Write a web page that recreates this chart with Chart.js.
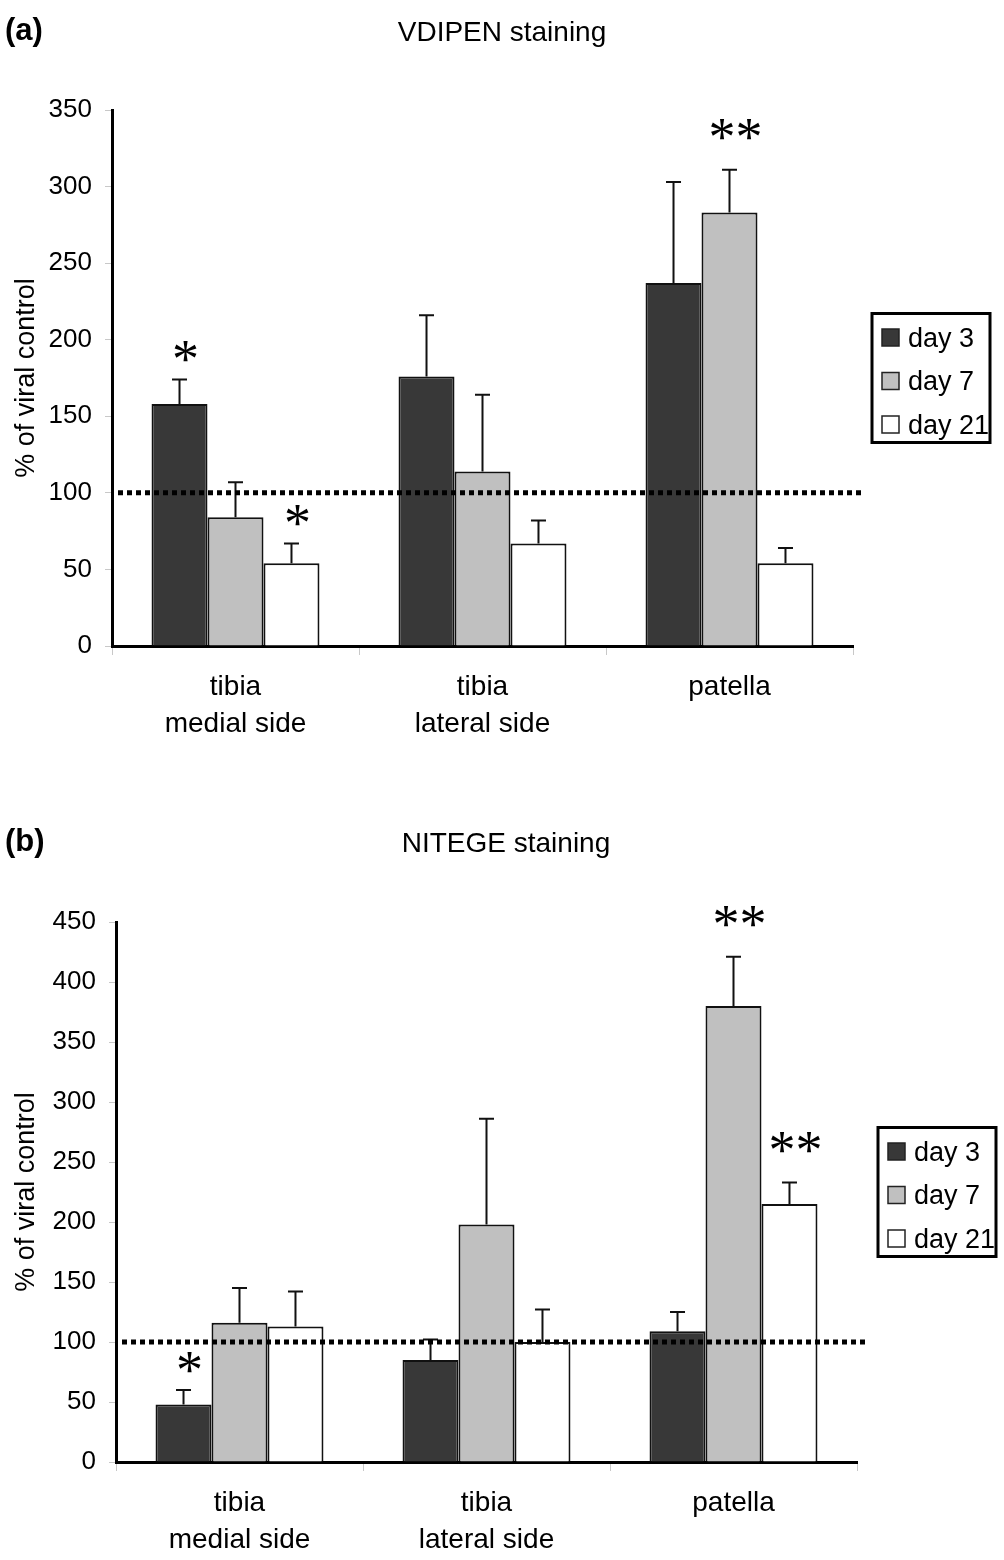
<!DOCTYPE html>
<html>
<head>
<meta charset="utf-8">
<script src="https://cdn.jsdelivr.net/npm/chart.js@4.4.0/dist/chart.umd.min.js"></script>
<style>
  html, body { margin: 0; padding: 0; background: #fff; }
  .panel { position: relative; width: 1004px; }
  #wrapA { height: 790px; }
  #wrapB { height: 770px; }
</style>
</head>
<body>
<div class="panel" id="wrapA"><canvas id="chartA"></canvas></div>
<div class="panel" id="wrapB"><canvas id="chartB"></canvas></div>
<script>
const categories = [["tibia", "medial side"], ["tibia", "lateral side"], "patella"];
const seriesNames = ["day 3", "day 7", "day 21"];
const seriesColors = ["#383838", "#c0c0c0", "#ffffff"];
const controlLevel = 100;

// (a) VDIPEN staining, % of viral control
const vdipenDay3 = [158, 176, 237];
const vdipenDay7 = [84, 114, 283];
const vdipenDay21 = [54, 67, 54];
const vdipenErrDay3 = [16, 40, 66];
const vdipenErrDay7 = [23, 50, 28];
const vdipenErrDay21 = [13, 15, 10];
const vdipenStars = [["*", "", ""], ["", "", "**"], ["*", "", ""]];
const vdipenTicks = [0, 50, 100, 150, 200, 250, 300, 350];

// (b) NITEGE staining
const nitegeDay3 = [48, 85, 109];
const nitegeDay7 = [116, 198, 380];
const nitegeDay21 = [113, 100, 215];
const nitegeErrDay3 = [12, 17, 16];
const nitegeErrDay7 = [29, 88, 41];
const nitegeErrDay21 = [29, 27, 18];
const nitegeStars = [["*", "", ""], ["", "", "**"], ["", "", "**"]];
const nitegeTicks = [0, 50, 100, 150, 200, 250, 300, 350, 400, 450];

const FONT = '"Liberation Sans", Arial, Helvetica, sans-serif';

const errorBars = {
  id: "errorBars",
  afterDatasetsDraw(chart, args, opts) {
    const { ctx } = chart;
    const y = chart.scales.y;
    ctx.save();
    ctx.strokeStyle = "#111";
    ctx.lineWidth = 2;
    chart.data.datasets.forEach((ds, i) => {
      const meta = chart.getDatasetMeta(i);
      meta.data.forEach((bar, j) => {
        const top = y.getPixelForValue(ds.data[j] + opts.errors[i][j]);
        ctx.beginPath();
        ctx.moveTo(bar.x, bar.y);
        ctx.lineTo(bar.x, top);
        ctx.moveTo(bar.x - 7.5, top);
        ctx.lineTo(bar.x + 7.5, top);
        ctx.stroke();
        const mark = opts.stars[i][j];
        if (mark) {
          ctx.fillStyle = "#000";
          ctx.font = '54px "Liberation Serif", "Times New Roman", serif';
          ctx.textAlign = "center";
          ctx.textBaseline = "alphabetic";
          const m = ctx.measureText(mark);
          // centre the glyph itself, not the em box
          const cy = top - (mark.length > 1 ? 40 : 28);
          const base = cy + (m.actualBoundingBoxAscent - m.actualBoundingBoxDescent) / 2;
          ctx.fillText(mark, bar.x + 6, base);
        }
      });
    });
    ctx.restore();
  },
};

const refLine = {
  id: "refLine",
  afterDatasetsDraw(chart) {
    const { ctx, chartArea } = chart;
    const py = chart.scales.y.getPixelForValue(controlLevel);
    ctx.save();
    ctx.strokeStyle = "#000";
    ctx.lineWidth = 5;
    ctx.setLineDash([5, 4]);
    ctx.beginPath();
    ctx.moveTo(chartArea.left + 6, py);
    ctx.lineTo(chartArea.right + 9, py);
    ctx.stroke();
    ctx.restore();
  },
};

const panelText = {
  id: "panelText",
  afterDraw(chart, args, opts) {
    const { ctx } = chart;
    ctx.save();
    ctx.fillStyle = "#000";
    ctx.textBaseline = "middle";
    ctx.font = "bold 31px " + FONT;
    ctx.textAlign = "left";
    ctx.fillText(opts.letter, 5, opts.y);
    ctx.font = "28px " + FONT;
    ctx.textAlign = "center";
    ctx.fillText(opts.title, opts.titleX, opts.y + 2);
    ctx.restore();
  },
};

const boxLegend = {
  id: "boxLegend",
  afterDraw(chart, args, opts) {
    const { ctx, chartArea } = chart;
    const w = 118, h = 129;
    const left = chartArea.right + opts.gap;
    const top = (chartArea.top + chartArea.bottom) / 2 - h / 2;
    ctx.save();
    ctx.lineWidth = 3;
    ctx.strokeStyle = "#000";
    ctx.strokeRect(left, top, w, h);
    ctx.font = "27px " + FONT;
    ctx.textBaseline = "middle";
    ctx.textAlign = "left";
    chart.data.datasets.forEach((ds, i) => {
      const cy = top + 24 + i * 43.5;
      ctx.fillStyle = ds.backgroundColor;
      ctx.fillRect(left + 10, cy - 8.5, 17, 17);
      ctx.lineWidth = 1.5;
      ctx.strokeStyle = "#222";
      ctx.strokeRect(left + 10, cy - 8.5, 17, 17);
      ctx.fillStyle = "#000";
      ctx.fillText(ds.label, left + 36, cy + 2);
    });
    ctx.restore();
  },
};

function makePanel(canvasId, p) {
  const values = [p.day3, p.day7, p.day21];
  return new Chart(document.getElementById(canvasId), {
    type: "bar",
    data: {
      labels: categories,
      datasets: seriesNames.map((name, i) => ({
        label: name,
        data: values[i],
        backgroundColor: seriesColors[i],
        borderColor: "#111",
        borderWidth: 2,
        categoryPercentage: 0.68,
        barPercentage: 1.0,
      })),
    },
    options: {
      responsive: true,
      maintainAspectRatio: false,
      animation: false,
      layout: { padding: { top: p.top, right: p.right, left: 0, bottom: 0 } },
      scales: {
        x: {
          offset: true,
          grid: { drawOnChartArea: false, offset: true, color: "#c8c8c8", tickLength: 9 },
          border: { color: "#000", width: 3 },
          ticks: {
            color: "#000",
            font: { family: FONT, size: 28, lineHeight: 1.35 },
            padding: 13,
            maxRotation: 0,
            autoSkip: false,
          },
          afterFit(scale) { scale.height = p.xHeight; },
        },
        y: {
          min: 0,
          max: p.ticks[p.ticks.length - 1],
          afterBuildTicks(scale) { scale.ticks = p.ticks.map((v) => ({ value: v })); },
          grid: { drawOnChartArea: false, color: "#c8c8c8", tickLength: 7 },
          border: { color: "#000", width: 3 },
          ticks: { color: "#000", font: { family: FONT, size: 26 }, padding: 13 },
          title: {
            display: true,
            text: "% of viral control",
            color: "#000",
            font: { family: FONT, size: 27 },
            padding: { top: 10, bottom: 0 },
          },
          afterFit(scale) { scale.width = p.yWidth; },
        },
      },
      plugins: {
        legend: { display: false },
        tooltip: { enabled: false },
        errorBars: { errors: p.errors, stars: p.stars },
        panelText: { letter: p.letter, title: p.title, titleX: p.titleX, y: p.titleY },
        boxLegend: { gap: p.legendGap },
      },
    },
    plugins: [errorBars, refLine, panelText, boxLegend],
  });
}

makePanel("chartA", {
  day3: vdipenDay3, day7: vdipenDay7, day21: vdipenDay21,
  errors: [vdipenErrDay3, vdipenErrDay7, vdipenErrDay21],
  stars: vdipenStars, ticks: vdipenTicks,
  letter: "(a)", title: "VDIPEN staining", titleX: 502, titleY: 31,
  top: 110, right: 151, xHeight: 144, yWidth: 112, legendGap: 19,
});

makePanel("chartB", {
  day3: nitegeDay3, day7: nitegeDay7, day21: nitegeDay21,
  errors: [nitegeErrDay3, nitegeErrDay7, nitegeErrDay21],
  stars: nitegeStars, ticks: nitegeTicks,
  letter: "(b)", title: "NITEGE staining", titleX: 506, titleY: 52,
  top: 132, right: 147, xHeight: 98, yWidth: 116, legendGap: 21,
});
</script>
</body>
</html>
